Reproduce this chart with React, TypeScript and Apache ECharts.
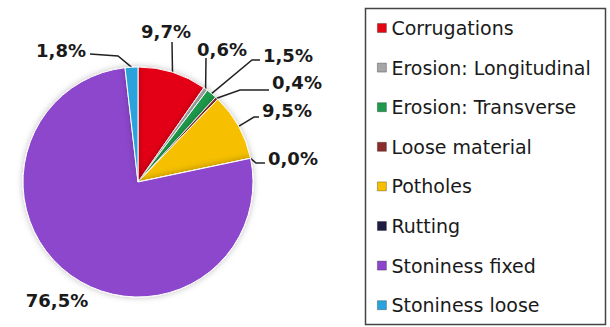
import React, { useEffect, useRef } from "react";
import * as echarts from "echarts";

const categories = [
  "Corrugations",
  "Erosion: Longitudinal",
  "Erosion: Transverse",
  "Loose material",
  "Potholes",
  "Rutting",
  "Stoniness fixed",
  "Stoniness loose",
];
const values = [9.7, 0.6, 1.5, 0.4, 9.5, 0.0, 76.5, 1.8];
const labels = ["9,7%", "0,6%", "1,5%", "0,4%", "9,5%", "0,0%", "76,5%", "1,8%"];
const colors = ["#e30613", "#a6a6a6", "#1f9a4c", "#8b2b2b", "#f6c000", "#1d1d42", "#8c46cc", "#2aa3dc"];

// label layout: label anchor, alignment, elbow points of the leader line
const labelPlacement: any[] = [
  { x: 166, y: 31, align: "center", pts: [[172, 42]] },
  { x: 222, y: 49, align: "center", pts: [[206, 58]] },
  { x: 263, y: 55, align: "left", pts: [[252, 60], [260, 60]] },
  { x: 272, y: 82, align: "left", pts: [[240, 90], [269, 90]] },
  { x: 262, y: 110, align: "left", pts: [[254, 117], [259, 117]] },
  { x: 268, y: 158, align: "left", pts: [[256, 163], [265, 163]] },
  { x: 57, y: 300, align: "center", pts: null },
  { x: 86, y: 50, align: "right", pts: [[118, 56], [90, 54]] },
];

export default function App() {
  const ref = useRef<HTMLDivElement>(null);
  useEffect(() => {
    const chart = echarts.init(ref.current!, null, { renderer: "svg" });
    chart.setOption({
      animation: false,
      backgroundColor: "#fff",
      graphic: [
        {
          type: "rect",
          shape: { x: 365.5, y: 8.5, width: 240, height: 316 },
          style: { fill: "none", stroke: "#444", lineWidth: 1.5 },
        },
      ],
      legend: {
        orient: "vertical",
        left: 372,
        top: 13,
        itemWidth: 9,
        itemHeight: 9,
        itemGap: 19.6,
        icon: "rect",
        data: categories,
        itemStyle: { borderColor: "rgba(0,0,0,0.35)", borderWidth: 0.8 },
        textStyle: { fontSize: 19, lineHeight: 20, color: "#1a1a1a", fontFamily: "DejaVu Sans" },
      },
      series: [
        {
          type: "pie",
          center: [138, 182],
          radius: 115,
          startAngle: 90,
          clockwise: true,
          avoidLabelOverlap: false,
          minShowLabelAngle: 0,
          data: categories.map((c, i) => ({
            name: c,
            value: values[i],
            labelLine: { show: labelPlacement[i].pts !== null },
          })),
          color: colors,
          itemStyle: { borderColor: "#fff", borderWidth: 1, shadowBlur: 6, shadowColor: "rgba(0,0,0,0.25)" },
          label: {
            show: true,
            formatter: (p: any) => labels[p.dataIndex],
            fontSize: 18,
            fontWeight: "bold",
            color: "#1a1a1a",
            fontFamily: "DejaVu Sans",
          },
          labelLine: { show: true, lineStyle: { color: "#222", width: 1.5 } },
          labelLayout: (params: any) => {
            const lp = labelPlacement[params.dataIndex];
            const res: any = { x: lp.x, y: lp.y, align: lp.align, verticalAlign: "middle" };
            if (lp.pts && params.labelLinePoints) {
              res.labelLinePoints = [params.labelLinePoints[0], ...lp.pts];
            }
            return res;
          },
        },
      ],
    });
    return () => chart.dispose();
  }, []);
  return <div ref={ref} style={{ position: "absolute", left: 0, top: 0, width: 610, height: 327 }} />;
}
